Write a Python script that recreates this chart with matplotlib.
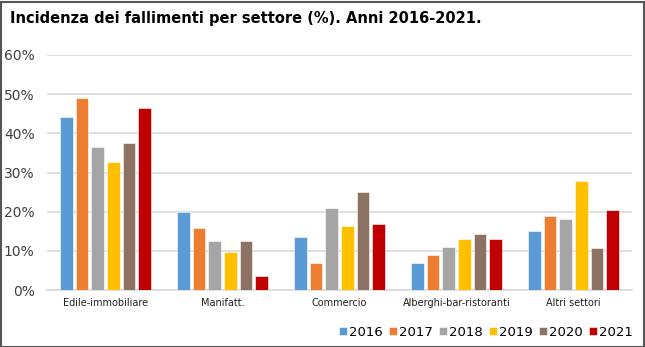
import numpy as np
import matplotlib.pyplot as plt
from matplotlib.patches import Rectangle

# Quote di fallimenti per settore (%)
settori = ['Edile-immobiliare', 'Manifatt.', 'Commercio', 'Alberghi-bar-ristoranti', 'Altri settori']
anni = ['2016', '2017', '2018', '2019', '2020', '2021']
v2016 = [44.1, 19.9, 13.6, 6.9, 15.1]
v2017 = [48.9, 15.9, 6.8, 9.0, 18.9]
v2018 = [36.6, 12.5, 21.0, 11.1, 18.2]
v2019 = [32.7, 9.8, 16.4, 13.0, 27.8]
v2020 = [37.5, 12.4, 25.0, 14.2, 10.7]
v2021 = [46.4, 3.7, 16.8, 13.0, 20.4]
colori = ['#5B9BD5', '#ED7D31', '#A5A5A5', '#FFC000', '#8B7262', '#C00000']

plt.rcParams['font.family'] = ['DejaVu Sans']

fig = plt.figure(figsize=(6.45, 3.47), dpi=100)
ax = fig.add_axes([47 / 645, 1 - 290 / 347, (632 - 47) / 645, (290 - 55) / 347])

serie = [v2016, v2017, v2018, v2019, v2020, v2021]
x = np.arange(len(settori))
passo = 0.134
larghezza = 0.108
for i, (anno, valori, c) in enumerate(zip(anni, serie, colori)):
    ax.bar(x + (i - 2.5) * passo, valori, larghezza, color=c, label=anno,
           edgecolor='white', linewidth=0.4, zorder=3)

ax.set_xlim(-0.5, len(settori) - 0.5)
ax.set_ylim(0, 60)
ax.set_yticks(range(0, 61, 10))
ax.set_yticklabels([f'{t}%' for t in range(0, 61, 10)], fontsize=10, color='#404040')
ax.set_xticks(x)
ax.set_xticklabels(settori, fontsize=7, color='#202020')
ax.tick_params(length=0, pad=6)
ax.tick_params(axis='y', pad=9)
ax.grid(axis='y', color='#D9D9D9', linewidth=1.2, zorder=0)
for s in ['top', 'right', 'left']:
    ax.spines[s].set_visible(False)
ax.spines['bottom'].set_color('#D9D9D9')
ax.spines['bottom'].set_linewidth(1.2)

fig.text(10 / 645, 1 - 22.7 / 347, 'Incidenza dei fallimenti per settore (%). Anni 2016-2021.',
         fontsize=10.5, fontweight='bold', va='baseline', ha='left')

fig.legend(loc='center right', bbox_to_anchor=(633 / 645, 1 - 332 / 347), ncol=6,
           fontsize=9.5, frameon=False, handlelength=0.61, handleheight=0.61,
           handletextpad=0.17, columnspacing=0.45, borderaxespad=0, borderpad=0)

fig.patches.append(Rectangle((0.5 / 645, 0.5 / 347), 643 / 645, 345 / 347,
                             transform=fig.transFigure, fill=False,
                             edgecolor='#555555', linewidth=1.5))

fig.savefig('out.png', dpi=100)
